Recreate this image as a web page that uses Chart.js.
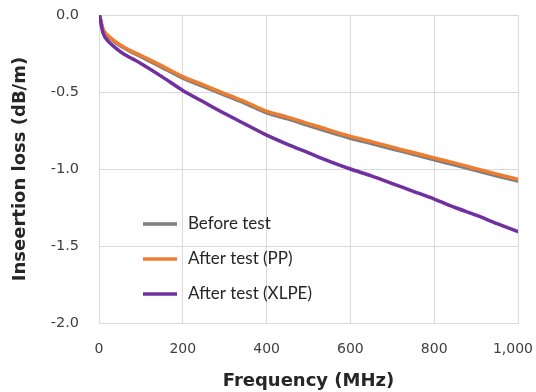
<!DOCTYPE html>
<html>
<head>
<meta charset="utf-8">
<script src="https://cdn.jsdelivr.net/npm/chart.js@4"></script>
<style>
  html, body { margin: 0; padding: 0; background: #fff; }
  #wrap { width: 536px; height: 392px; }
</style>
</head>
<body>
<div id="wrap"><canvas id="lossChart" width="536" height="392"></canvas></div>
<script>
// valores (MHz, dB/m)
const freq = [2, 10, 20, 40, 60, 80, 100, 150, 200, 250, 300, 350, 400, 450, 500, 550, 600, 650, 700, 750, 800, 850, 900, 950, 1000];
const beforeTest = [-0.01, -0.10, -0.135, -0.18, -0.215, -0.245, -0.27, -0.34, -0.41, -0.465, -0.52, -0.575, -0.635, -0.675, -0.718, -0.76, -0.80, -0.835, -0.87, -0.905, -0.94, -0.975, -1.01, -1.045, -1.078];
const afterPP = [-0.01, -0.095, -0.13, -0.175, -0.21, -0.238, -0.263, -0.33, -0.40, -0.455, -0.51, -0.565, -0.624, -0.663, -0.705, -0.748, -0.788, -0.822, -0.858, -0.893, -0.928, -0.962, -0.998, -1.033, -1.067];
const afterXLPE = [-0.01, -0.12, -0.165, -0.215, -0.255, -0.285, -0.315, -0.40, -0.49, -0.565, -0.64, -0.71, -0.78, -0.84, -0.895, -0.95, -1.00, -1.045, -1.095, -1.145, -1.195, -1.25, -1.30, -1.355, -1.407];
const seriesNames = ['Before test', 'After test (PP)', 'After test (XLPE)'];
const xTicks = [0, 200, 400, 600, 800, 1000];
const yTicks = [0.0, -0.5, -1.0, -1.5, -2.0];

const toPoints = vals => freq.map((f, i) => ({ x: f, y: vals[i] }));

// legenda desenhada dentro da área do gráfico (canto inferior esquerdo)
const innerLegend = {
  id: 'innerLegend',
  beforeDraw(chart) {
    // o rótulo "1,000" fica encostado na borda direita, como no Excel
    const items = chart.scales.x.getLabelItems();
    const last = items[items.length - 1];
    if (last) {
      last.options.textAlign = 'right';
      last.options.translation[0] = chart.width - 3;
    }
  },
  afterDraw(chart) {
    const ctx = chart.ctx;
    const rows = [224, 259, 294];
    ctx.save();
    ctx.font = '17px Lato';
    ctx.textBaseline = 'middle';
    chart.data.datasets.forEach((ds, i) => {
      ctx.strokeStyle = ds.borderColor;
      ctx.lineWidth = 3.5;
      ctx.beginPath();
      ctx.moveTo(143, rows[i]);
      ctx.lineTo(177, rows[i]);
      ctx.stroke();
      ctx.fillStyle = '#262626';
      ctx.fillText(ds.label, 188, rows[i]);
    });
    ctx.restore();
  }
};

new Chart(document.getElementById('lossChart'), {
  type: 'line',
  data: {
    datasets: [
      { label: seriesNames[0], data: toPoints(beforeTest), borderColor: '#7f7f7f', order: 3 },
      { label: seriesNames[1], data: toPoints(afterPP), borderColor: '#ed7d31', order: 2 },
      { label: seriesNames[2], data: toPoints(afterXLPE), borderColor: '#7030a0', order: 1 }
    ]
  },
  options: {
    responsive: false,
    animation: false,
    elements: {
      line: { borderWidth: 3.5, tension: 0.3, borderCapStyle: 'round' },
      point: { radius: 0 }
    },
    layout: { padding: { top: 15, right: 18, left: 0, bottom: 0 } },
    plugins: { legend: { display: false }, tooltip: { enabled: false } },
    scales: {
      x: {
        type: 'linear',
        min: 0, max: 1000,
        afterBuildTicks(s) { s.ticks = xTicks.map(v => ({ value: v })); },
        afterFit(s) { s.height = 69; s.paddingLeft = 0; s.paddingRight = 0; },
        ticks: {
          padding: 18,
          color: '#404040',
          font: { family: 'DejaVu Sans', size: 14 },
          maxRotation: 0,
          callback: v => v.toLocaleString('en-US')
        },
        grid: { color: '#d9d9d9', drawTicks: false },
        border: { color: '#d9d9d9' },
        title: {
          display: true, text: 'Frequency (MHz)', color: '#262626',
          font: { family: 'DejaVu Sans', size: 18, weight: 'bold' },
          padding: { top: 4, bottom: 0 }
        }
      },
      y: {
        min: -2, max: 0,
        afterBuildTicks(s) { s.ticks = yTicks.map(v => ({ value: v })); },
        afterFit(s) { s.width = 99; s.paddingTop = 0; s.paddingBottom = 0; },
        ticks: {
          padding: 20,
          color: '#404040',
          font: { family: 'DejaVu Sans', size: 14.5 },
          callback: v => v.toFixed(1)
        },
        grid: { color: '#d9d9d9', drawTicks: false },
        border: { color: '#d9d9d9' },
        title: {
          display: true, text: 'Inseertion loss (dB/m)', color: '#262626',
          font: { family: 'DejaVu Sans', size: 18, weight: 'bold' },
          padding: { top: 10, bottom: 0 }
        }
      }
    }
  },
  plugins: [innerLegend]
});
</script>
</body>
</html>
